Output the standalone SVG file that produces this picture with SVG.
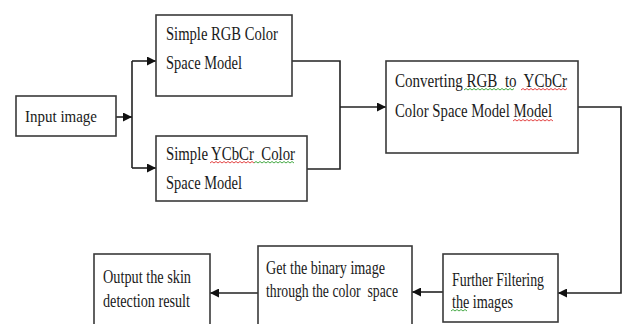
<svg xmlns="http://www.w3.org/2000/svg" width="625" height="324" viewBox="0 0 625 324">
  <style>
    .box { fill: #ffffff; stroke: #3a3a3a; stroke-width: 1.6; }
    .lbl { font-family: "Liberation Serif", "Times New Roman", serif; font-size: 19.5px; fill: #1a1a1a; }
    .sm { font-size: 17.5px; }
    .wire { fill: none; stroke: #222222; stroke-width: 1.6; }
    .wavy-red { fill: none; stroke: #e03030; stroke-width: 0.9; }
    .wavy-green { fill: none; stroke: #30a030; stroke-width: 0.9; }
  </style>
  <defs>
    <marker id="arrow" viewBox="0 0 10 10" refX="10" refY="5" markerWidth="9" markerHeight="9" markerUnits="userSpaceOnUse" orient="auto">
      <path d="M0,0 L10,5 L0,10 z" fill="#111111"/>
    </marker>
  </defs>

  <rect width="625" height="324" fill="#ffffff"/>

  <!-- connectors -->
  <g id="connectors">
    <path class="wire" d="M116,117 H132" marker-end="url(#arrow)"/>
    <path class="wire" d="M132,61 V168"/>
    <path class="wire" d="M132,61 H156" marker-end="url(#arrow)"/>
    <path class="wire" d="M132,168 H156" marker-end="url(#arrow)"/>
    <path class="wire" d="M292,61 H340 V169 H307"/>
    <path class="wire" d="M340,107 H386" marker-end="url(#arrow)"/>
    <path class="wire" d="M578,107 H621 V293 H558" marker-end="url(#arrow)"/>
    <path class="wire" d="M443,292 H412" marker-end="url(#arrow)"/>
    <path class="wire" d="M258,293 H210" marker-end="url(#arrow)"/>
  </g>

  <g id="input-image">
    <rect class="box" x="16" y="96" width="100" height="40"/>
    <text class="lbl sm" x="25" y="122" textLength="72" lengthAdjust="spacingAndGlyphs">Input image</text>
  </g>

  <g id="simple-rgb">
    <rect class="box" x="156" y="15" width="136" height="81"/>
    <text class="lbl" x="166" y="40" textLength="112" lengthAdjust="spacingAndGlyphs">Simple RGB Color</text>
    <text class="lbl" x="166" y="69" textLength="76" lengthAdjust="spacingAndGlyphs">Space Model</text>
  </g>

  <g id="simple-ycbcr">
    <rect class="box" x="156" y="136" width="151" height="65"/>
    <text class="lbl" x="166" y="160" textLength="129" lengthAdjust="spacingAndGlyphs" xml:space="preserve">Simple YCbCr  Color</text>
    <text class="lbl" x="166" y="189" textLength="76" lengthAdjust="spacingAndGlyphs">Space Model</text>
    <path class="wavy-red" d="M210,163 l2,-1.5 l2,1.5 l2,-1.5 l2,1.5 l2,-1.5 l2,1.5 l2,-1.5 l2,1.5 l2,-1.5 l2,1.5 l2,-1.5 l2,1.5 l2,-1.5 l2,1.5 l2,-1.5 l2,1.5 l2,-1.5 l2,1.5 l2,-1.5 l2,1.5 l2,-1.5 l2,1.5"/>
    <path class="wavy-green" d="M254,163 l2,-1.5 l2,1.5 l2,-1.5 l2,1.5 l2,-1.5 l2,1.5 l2,-1.5 l2,1.5 l2,-1.5 l2,1.5 l2,-1.5 l2,1.5 l2,-1.5 l2,1.5 l2,-1.5 l2,1.5 l2,-1.5 l2,1.5 l2,-1.5 l2,1.5"/>
  </g>

  <g id="converting">
    <rect class="box" x="386" y="61" width="192" height="92"/>
    <text class="lbl" x="395" y="87" textLength="172" lengthAdjust="spacingAndGlyphs" xml:space="preserve">Converting RGB  to  YCbCr</text>
    <text class="lbl" x="395" y="117" textLength="157" lengthAdjust="spacingAndGlyphs">Color Space Model Model</text>
    <path class="wavy-green" d="M464,90 l2,-1.5 l2,1.5 l2,-1.5 l2,1.5 l2,-1.5 l2,1.5 l2,-1.5 l2,1.5 l2,-1.5 l2,1.5 l2,-1.5 l2,1.5 l2,-1.5 l2,1.5 l2,-1.5 l2,1.5 l2,-1.5 l2,1.5 l2,-1.5 l2,1.5 l2,-1.5 l2,1.5 l2,-1.5 l2,1.5 l2,-1.5"/>
    <path class="wavy-red" d="M521,90 l2,-1.5 l2,1.5 l2,-1.5 l2,1.5 l2,-1.5 l2,1.5 l2,-1.5 l2,1.5 l2,-1.5 l2,1.5 l2,-1.5 l2,1.5 l2,-1.5 l2,1.5 l2,-1.5 l2,1.5 l2,-1.5 l2,1.5 l2,-1.5 l2,1.5 l2,-1.5 l2,1.5 l2,-1.5"/>
    <path class="wavy-red" d="M513,121 l2,-1.5 l2,1.5 l2,-1.5 l2,1.5 l2,-1.5 l2,1.5 l2,-1.5 l2,1.5 l2,-1.5 l2,1.5 l2,-1.5 l2,1.5 l2,-1.5 l2,1.5 l2,-1.5 l2,1.5 l2,-1.5 l2,1.5 l2,-1.5 l2,1.5"/>
  </g>

  <g id="further-filtering">
    <rect class="box" x="443" y="254" width="115" height="68"/>
    <text class="lbl" x="452" y="286" textLength="92" lengthAdjust="spacingAndGlyphs">Further Filtering</text>
    <text class="lbl" x="452" y="308" textLength="61" lengthAdjust="spacingAndGlyphs">the images</text>
    <path class="wavy-green" d="M451,311 l2,-1.5 l2,1.5 l2,-1.5 l2,1.5 l2,-1.5 l2,1.5 l2,-1.5 l2,1.5"/>
  </g>

  <g id="binary-image">
    <rect class="box" x="258" y="246" width="154" height="82"/>
    <text class="lbl" x="266" y="274" textLength="119" lengthAdjust="spacingAndGlyphs">Get the binary image</text>
    <text class="lbl" x="266" y="297" textLength="132" lengthAdjust="spacingAndGlyphs" xml:space="preserve">through the color  space</text>
  </g>

  <g id="skin-output">
    <rect class="box" x="94" y="254" width="116" height="74"/>
    <text class="lbl" x="103" y="283" textLength="88" lengthAdjust="spacingAndGlyphs">Output the skin</text>
    <text class="lbl" x="103" y="307" textLength="87" lengthAdjust="spacingAndGlyphs">detection result</text>
  </g>
</svg>
